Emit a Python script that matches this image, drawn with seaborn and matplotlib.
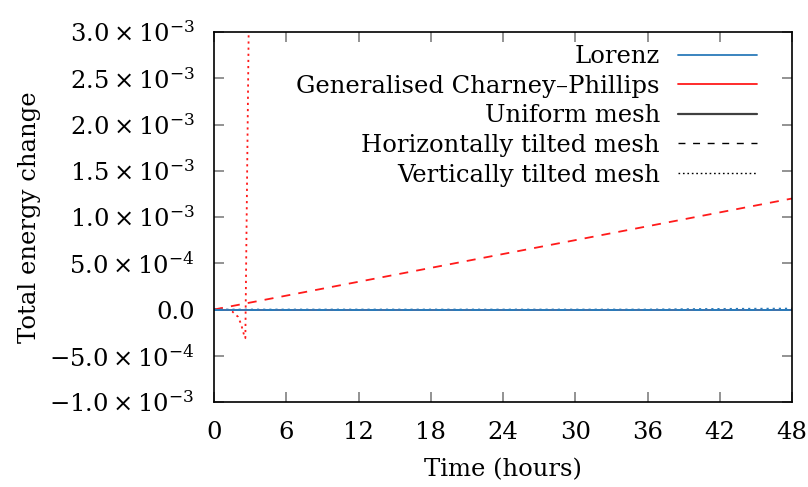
import numpy as np
import pandas as pd
import matplotlib
matplotlib.use("Agg")
import matplotlib.pyplot as plt
from matplotlib.lines import Line2D
from matplotlib.ticker import FixedLocator, FuncFormatter
import seaborn as sns

# ---- data ----
t_full = [0, 6, 12, 18, 24, 30, 36, 42, 48]
lorenz_uniform = [0, 0, 0, 0, 0, 0, 0, 0, 0]
lorenz_horiz = [0, 0, 0, 0, 0, 0, 0, 0, 0]
t_lv = [0, 6, 12, 18, 24, 30, 36, 40, 44, 48]
lorenz_vert = [0, 0, 0, 0, 0, 0, 0.0, 0.000005, 0.000008, 0.00001]
cp_uniform = [0, 0, 0, 0, 0, 0, 0, 0, 0]
cp_horiz = [0, 0.00015, 0.0003, 0.00045, 0.0006, 0.00075, 0.0009, 0.00105, 0.0012]
t_cpv = [0, 0.5, 1.0, 1.5, 2.0, 2.25, 2.5, 2.6, 3.0]
cp_vert = [0, 0.00001, 0.0, -0.00002, -0.00008, -0.00016, -0.00028, -0.00031, 0.0045]

formulations = ["Lorenz", "Generalised Charney–Phillips"]
meshes = ["Uniform mesh", "Horizontally tilted mesh", "Vertically tilted mesh"]
y_ticks = [-0.001, -0.0005, 0.0, 0.0005, 0.001, 0.0015, 0.002, 0.0025, 0.003]
x_ticks = [0, 6, 12, 18, 24, 30, 36, 42, 48]

series = [
    ("Generalised Charney–Phillips", "Uniform mesh", t_full, cp_uniform),
    ("Generalised Charney–Phillips", "Horizontally tilted mesh", t_full, cp_horiz),
    ("Generalised Charney–Phillips", "Vertically tilted mesh", t_cpv, cp_vert),
    ("Lorenz", "Uniform mesh", t_full, lorenz_uniform),
    ("Lorenz", "Horizontally tilted mesh", t_full, lorenz_horiz),
    ("Lorenz", "Vertically tilted mesh", t_lv, lorenz_vert),
]
rows = []
for f, m, ts, vs in series:
    for tt, vv in zip(ts, vs):
        rows.append({"time": tt, "energy": vv, "formulation": f, "mesh": m})
df = pd.DataFrame(rows)

# ---- style ----
sns.set_theme(style="white")
plt.rcParams["font.family"] = ["DejaVu Serif"]
plt.rcParams["mathtext.fontset"] = "dejavuserif"
plt.rcParams["text.color"] = "black"
plt.rcParams["axes.labelcolor"] = "black"
plt.rcParams["xtick.labelcolor"] = "black"
plt.rcParams["ytick.labelcolor"] = "black"

FS = 17.5
colors = {"Lorenz": "#2b7bba", "Generalised Charney–Phillips": "#ff1a1a"}
dashes = {"Uniform mesh": "", "Horizontally tilted mesh": (5, 4.5), "Vertically tilted mesh": (1.2, 2.2)}

fig = plt.figure(figsize=(8.08, 4.87), dpi=100)
ax = fig.add_axes([0.2649, 0.1745, 0.7154, 0.7598])

for f, m, _, _ in series:
    sub = df[(df.formulation == f) & (df.mesh == m)]
    sns.lineplot(data=sub, x="time", y="energy", ax=ax, color=colors[f],
                 linewidth=1.3, estimator=None, sort=False)
    ln = ax.lines[-1]
    if dashes[m]:
        ln.set_dashes(dashes[m])

ax.set_xlim(0, 48)
ax.set_ylim(-0.001, 0.003)
ax.xaxis.set_major_locator(FixedLocator(x_ticks))
ax.yaxis.set_major_locator(FixedLocator(y_ticks))

def yfmt(v, pos):
    if abs(v) < 1e-12:
        return "0.0"
    exp = int(np.floor(np.log10(abs(v)) + 1e-9))
    mant = v / 10 ** exp
    sign = "-" if mant < 0 else ""
    return r"$%s%.1f \times 10^{%d}$" % (sign, abs(mant), exp)

ax.yaxis.set_major_formatter(FuncFormatter(yfmt))
ax.xaxis.set_major_formatter(FuncFormatter(lambda v, p: "%d" % v))

ax.tick_params(axis="both", which="major", direction="in", length=7, width=1.2,
               color="#808080", labelsize=FS, top=True, right=True,
               bottom=True, left=True, labelcolor="black")
ax.tick_params(axis="y", pad=14)
ax.tick_params(axis="x", pad=14)
for s in ax.spines.values():
    s.set_color("black")
    s.set_linewidth(1.2)
    s.set_visible(True)

ax.set_xlabel("Time (hours)", fontsize=FS, labelpad=10, color="black")
ax.set_ylabel("Total energy change", fontsize=FS, labelpad=6, color="black")

handles = [
    Line2D([], [], color=colors["Lorenz"], lw=1.3),
    Line2D([], [], color=colors["Generalised Charney–Phillips"], lw=1.3),
    Line2D([], [], color="#404040", lw=1.6),
    Line2D([], [], color="black", lw=1.0, dashes=(5, 5.5)),
    Line2D([], [], color="black", lw=1.0, dashes=(1.2, 2.0)),
]
labels = formulations + meshes
leg = ax.legend(handles, labels, loc="upper right", frameon=False, fontsize=FS,
                markerfirst=False, handlelength=3.25, handletextpad=0.75,
                labelspacing=0.27, borderaxespad=0.0, borderpad=0.0,
                bbox_to_anchor=(0.9395, 0.964))
for txt in leg.get_texts():
    txt.set_ha("right")
    txt.set_color("black")
leg._legend_box.align = "right"

fig.savefig("out.png", dpi=100)
